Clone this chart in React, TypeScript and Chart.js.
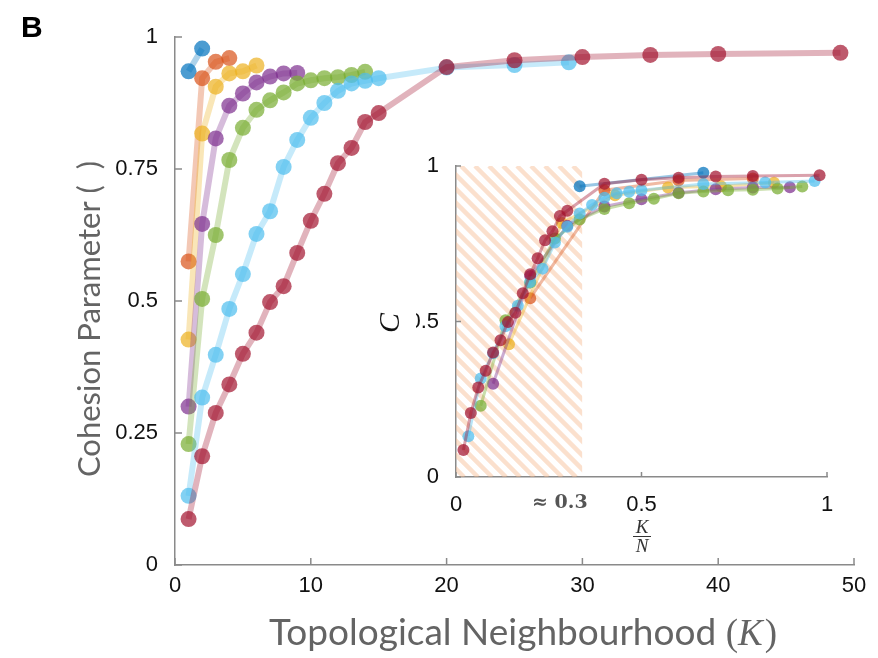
import React, { useEffect, useRef } from 'react';
import { Chart, registerables } from 'chart.js';

Chart.register(...registerables);

// ---- Data (K = topological neighbourhood, C = cohesion parameter) ----
const K_BLUE = [1, 2];
const C_BLUE = [0.935, 0.978];
const K_ORANGE = [1, 2, 3, 4];
const C_ORANGE = [0.575, 0.922, 0.953, 0.96];
const K_YELLOW = [1, 2, 3, 4, 5, 6];
const C_YELLOW = [0.427, 0.817, 0.906, 0.931, 0.935, 0.946];
const K_PURPLE = [1, 2, 3, 4, 5, 6, 7, 8, 9];
const C_PURPLE = [0.3, 0.646, 0.808, 0.87, 0.893, 0.914, 0.925, 0.931, 0.932];
const K_GREEN = [1, 2, 3, 4, 5, 6, 7, 8, 9, 10, 11, 12, 13, 14];
const C_GREEN = [0.229, 0.504, 0.625, 0.767, 0.828, 0.862, 0.88, 0.895, 0.912, 0.918, 0.922, 0.924, 0.928, 0.934];
const K_LIGHTBLUE = [1, 2, 3, 4, 5, 6, 7, 8, 9, 10, 11, 12, 13, 14, 15, 20, 25, 29];
const C_LIGHTBLUE = [0.131, 0.317, 0.398, 0.485, 0.551, 0.627, 0.67, 0.754, 0.805, 0.847, 0.875, 0.898, 0.912, 0.917, 0.922, 0.942, 0.947, 0.952];
const K_RED = [1, 2, 3, 4, 5, 6, 7, 8, 9, 10, 11, 12, 13, 14, 15, 20, 25, 30, 35, 40, 49];
const C_RED = [0.087, 0.206, 0.288, 0.342, 0.4, 0.44, 0.498, 0.528, 0.591, 0.652, 0.703, 0.761, 0.79, 0.839, 0.856, 0.943, 0.956, 0.962, 0.966, 0.968, 0.97];

// group size N of each series (used for the K/N inset)
const GROUP_SIZES = [3, 5, 7, 10, 15, 30, 50];

const MAIN_X_TICKS = [0, 10, 20, 30, 40, 50];
const MAIN_Y_TICKS = [0, 0.25, 0.5, 0.75, 1];
const INSET_X_TICKS = [0, 0.28, 0.5, 1];
const INSET_X_LABELS = ['0', '≈ 0.3', '0.5', '1'];
const INSET_Y_TICKS = [0, 0.5, 1];
const HATCH_LIMIT = 0.34;

const SERIES_K = [K_BLUE, K_ORANGE, K_YELLOW, K_PURPLE, K_GREEN, K_LIGHTBLUE, K_RED];
const SERIES_C = [C_BLUE, C_ORANGE, C_YELLOW, C_PURPLE, C_GREEN, C_LIGHTBLUE, C_RED];
const COLORS: number[][] = [
  [0, 114, 189],
  [217, 83, 25],
  [237, 177, 32],
  [126, 47, 142],
  [119, 172, 48],
  [77, 190, 238],
  [162, 20, 47],
];

const rgba = (c: number[], a: number) => `rgba(${c[0]},${c[1]},${c[2]},${a})`;
const AXIS_COLOR = '#8a8a8a';
const TICK_FONT = '"Liberation Sans", Arial, sans-serif';
const TITLE_COLOR = '#646464';

function makeTickPlugin(len: number, skipX: number[] = []) {
  return {
    id: 'inwardTicks',
    afterDatasetsDraw(chart: any) {
      const { ctx, chartArea } = chart;
      const xs = chart.scales.x;
      const ys = chart.scales.y;
      ctx.save();
      ctx.strokeStyle = AXIS_COLOR;
      ctx.lineWidth = 1.5;
      ctx.beginPath();
      for (const t of xs.ticks) {
        if (skipX.includes(t.value)) continue;
        const px = xs.getPixelForValue(t.value);
        ctx.moveTo(px, chartArea.bottom);
        ctx.lineTo(px, chartArea.bottom - len);
      }
      for (const t of ys.ticks) {
        const py = ys.getPixelForValue(t.value);
        ctx.moveTo(chartArea.left, py);
        ctx.lineTo(chartArea.left + len, py);
      }
      ctx.stroke();
      ctx.restore();
    },
  };
}

const mainTextPlugin = {
  id: 'mainText',
  afterDraw(chart: any) {
    const { ctx, chartArea } = chart;
    ctx.save();
    // panel letter
    ctx.fillStyle = '#000';
    ctx.font = 'bold 30px "Liberation Sans", Arial, sans-serif';
    ctx.textAlign = 'left';
    ctx.textBaseline = 'alphabetic';
    ctx.fillText('B', 21, 37);

    // y title
    ctx.fillStyle = TITLE_COLOR;
    ctx.font = '31px Lato, sans-serif';
    ctx.translate(90, (chartArea.top + chartArea.bottom) / 2 + 18);
    ctx.rotate(-Math.PI / 2);
    ctx.textAlign = 'center';
    ctx.textBaseline = 'middle';
    ctx.fillText('Cohesion Parameter (  )', 0, 0);
    ctx.restore();

    // x title with italic K
    ctx.save();
    ctx.fillStyle = TITLE_COLOR;
    ctx.textBaseline = 'alphabetic';
    ctx.textAlign = 'left';
    const partA = 'Topological Neighbourhood ';
    const fA = '37px Lato, sans-serif';
    const fP = '37px "Liberation Serif", serif';
    const fK = 'italic 37px "Liberation Serif", serif';
    ctx.font = fA; const wA = ctx.measureText(partA).width;
    ctx.font = fP; const wP = ctx.measureText('(').width; const wQ = ctx.measureText(')').width;
    ctx.font = fK; const wK = ctx.measureText('K').width;
    const total = wA + wP + wK + wQ + 2;
    let x = 523 - total / 2;
    const y = 645;
    ctx.font = fA; ctx.fillText(partA, x, y); x += wA;
    ctx.font = fP; ctx.fillText('(', x, y); x += wP;
    ctx.font = fK; ctx.fillText('K', x, y); x += wK + 2;
    ctx.font = fP; ctx.fillText(')', x, y);
    ctx.restore();
  },
};

const insetPlugin = {
  id: 'insetExtras',
  beforeDatasetsDraw(chart: any) {
    const { ctx } = chart;
    const xs = chart.scales.x;
    const ys = chart.scales.y;
    const x0 = xs.getPixelForValue(0);
    const x1 = xs.getPixelForValue(HATCH_LIMIT);
    const yT = ys.getPixelForValue(1);
    const yB = ys.getPixelForValue(0);
    ctx.save();
    ctx.beginPath();
    ctx.rect(x0, yT, x1 - x0, yB - yT);
    ctx.clip();
    ctx.strokeStyle = 'rgba(247,186,145,0.45)';
    ctx.lineWidth = 4.5;
    const h = yB - yT;
    ctx.beginPath();
    for (let s = x0 - h - 20; s < x1 + 20; s += 14) {
      ctx.moveTo(s, yT);
      ctx.lineTo(s + h, yB);
    }
    ctx.stroke();
    ctx.restore();
  },
  afterDraw(chart: any) {
    const { ctx } = chart;
    ctx.save();
    ctx.fillStyle = '#111';
    ctx.font = 'italic 30px "Liberation Serif", serif';
    ctx.translate(391, 323);
    ctx.rotate(-Math.PI / 2);
    ctx.textAlign = 'center';
    ctx.textBaseline = 'middle';
    ctx.fillText('C', 0, 0);
    ctx.restore();

    ctx.save();
    ctx.fillStyle = '#333';
    ctx.strokeStyle = '#333';
    ctx.font = 'italic 19px "Liberation Serif", serif';
    ctx.textAlign = 'center';
    ctx.textBaseline = 'alphabetic';
    const cx = 642;
    ctx.fillText('K', cx, 533);
    ctx.lineWidth = 1;
    ctx.beginPath();
    ctx.moveTo(cx - 9, 536.5);
    ctx.lineTo(cx + 9, 536.5);
    ctx.stroke();
    ctx.fillText('N', cx, 552);
    ctx.restore();
  },
};

function mainConfig(): any {
  const datasets = SERIES_K.map((ks, s) => ({
    data: ks.map((k, i) => ({ x: k, y: SERIES_C[s][i] })),
    borderColor: rgba(COLORS[s], 0.32),
    borderWidth: 6,
    pointRadius: 8,
    pointBackgroundColor: rgba(COLORS[s], 0.7),
    pointBorderWidth: 0,
    tension: 0,
  })).reverse();
  return {
    type: 'line',
    data: { datasets },
    options: {
      animation: false,
      responsive: false,
      devicePixelRatio: 1,
      events: [],
      layout: { padding: { left: 0, top: 37, right: 24, bottom: 0 } },
      plugins: { legend: { display: false }, tooltip: { enabled: false } },
      scales: {
        x: {
          type: 'linear',
          min: 0,
          max: 50,
          afterBuildTicks: (sc: any) => { sc.ticks = MAIN_X_TICKS.map((v) => ({ value: v })); },
          afterFit: (sc: any) => { sc.height = 93; },
          grid: { display: false },
          border: { display: true, color: AXIS_COLOR, width: 1.5 },
          ticks: {
            callback: (v: any) => String(v),
            font: { family: TICK_FONT, size: 22 },
            color: '#111',
            padding: 0,
            maxRotation: 0,
          },
        },
        y: {
          type: 'linear',
          min: 0,
          max: 1,
          afterBuildTicks: (sc: any) => { sc.ticks = MAIN_Y_TICKS.map((v) => ({ value: v })); },
          afterFit: (sc: any) => { sc.width = 175; },
          grid: { display: false },
          border: { display: true, color: AXIS_COLOR, width: 1.5 },
          ticks: {
            callback: (v: any) => String(v),
            font: { family: TICK_FONT, size: 22 },
            color: '#111',
            padding: 9,
          },
        },
      },
    },
    plugins: [makeTickPlugin(7), mainTextPlugin],
  };
}

function insetConfig(): any {
  const datasets = SERIES_K.map((ks, s) => ({
    data: ks.map((k, i) => ({ x: k / GROUP_SIZES[s], y: SERIES_C[s][i] })),
    borderColor: rgba(COLORS[s], 0.4),
    borderWidth: 3,
    pointRadius: 6,
    pointBackgroundColor: rgba(COLORS[s], 0.72),
    pointBorderWidth: 0,
    tension: 0,
  })).reverse();
  return {
    type: 'line',
    data: { datasets },
    options: {
      animation: false,
      responsive: false,
      devicePixelRatio: 1,
      events: [],
      layout: { padding: { left: 416, top: 166, right: 51, bottom: 141 } },
      plugins: { legend: { display: false }, tooltip: { enabled: false } },
      scales: {
        x: {
          type: 'linear',
          min: 0,
          max: 1,
          afterBuildTicks: (sc: any) => { sc.ticks = INSET_X_TICKS.map((v) => ({ value: v })); },
          afterFit: (sc: any) => { sc.height = 40; },
          grid: { display: false },
          border: { display: true, color: AXIS_COLOR, width: 1.5 },
          ticks: {
            callback: (_v: any, i: number) => INSET_X_LABELS[i],
            font: (c: any) =>
              c.index === 1
                ? { family: '"DejaVu Serif", serif', size: 19, weight: 'bold' }
                : { family: TICK_FONT, size: 22 },
            color: (c: any) => (c.index === 1 ? '#555' : '#111'),
            padding: 7,
            maxRotation: 0,
            autoSkip: false,
          },
        },
        y: {
          type: 'linear',
          min: 0,
          max: 1,
          afterBuildTicks: (sc: any) => { sc.ticks = INSET_Y_TICKS.map((v) => ({ value: v })); },
          afterFit: (sc: any) => { sc.width = 40; },
          grid: { display: false },
          border: { display: true, color: AXIS_COLOR, width: 1.5 },
          ticks: {
            callback: (v: any) => String(v),
            font: { family: TICK_FONT, size: 22 },
            color: '#111',
            padding: 9,
          },
        },
      },
    },
    plugins: [makeTickPlugin(5, [0.28]), insetPlugin],
  };
}

export default function App() {
  const mainRef = useRef<HTMLCanvasElement>(null);
  const insetRef = useRef<HTMLCanvasElement>(null);
  useEffect(() => {
    const main = new Chart(mainRef.current as HTMLCanvasElement, mainConfig());
    const inset = new Chart(insetRef.current as HTMLCanvasElement, insetConfig());
    return () => {
      main.destroy();
      inset.destroy();
    };
  }, []);
  return (
    <div style={{ position: 'absolute', left: 0, top: 0, width: 878, height: 658, background: '#fff' }}>
      <canvas ref={mainRef} width={878} height={658} style={{ position: 'absolute', left: 0, top: 0, width: 878, height: 658 }} />
      <canvas ref={insetRef} width={878} height={658} style={{ position: 'absolute', left: 0, top: 0, width: 878, height: 658 }} />
    </div>
  );
}
